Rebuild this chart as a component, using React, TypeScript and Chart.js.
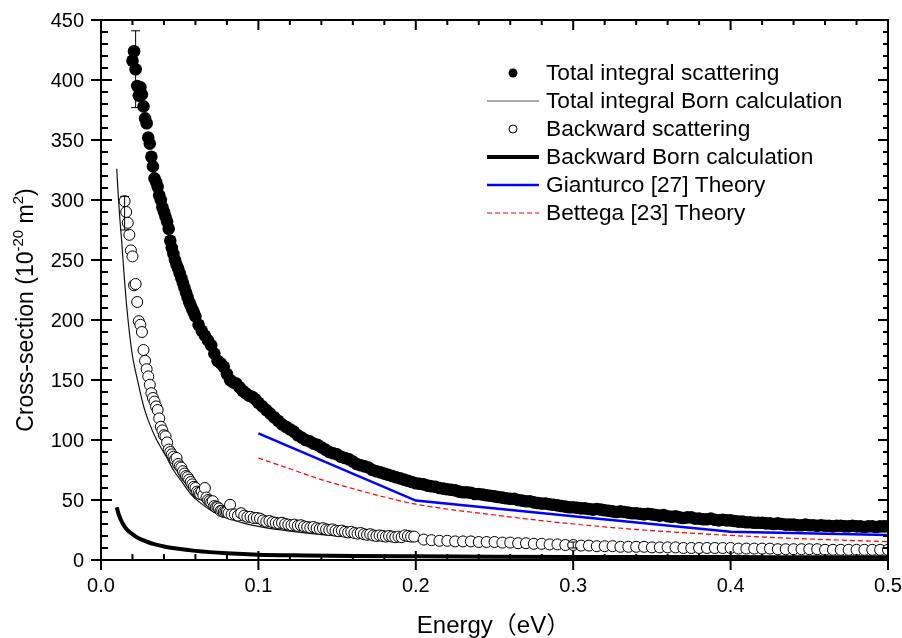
import React, { useEffect, useRef } from "react";
import { Chart, registerables } from "chart.js";

Chart.register(...registerables);

type Pt = [number, number];

const totalScattering: Pt[] = [
  [0.020, 416], [0.021, 424], [0.022, 409], [0.023, 395], [0.024, 387], [0.025, 394], [0.026, 388], [0.027, 378],
  [0.028, 368], [0.029, 364], [0.030, 352], [0.031, 347], [0.032, 336], [0.033, 328], [0.034, 318], [0.035, 315],
  [0.036, 311], [0.037, 304], [0.038, 300], [0.039, 294], [0.040, 290], [0.041, 286], [0.042, 282], [0.043, 276],
  [0.044, 266], [0.045, 260], [0.046, 255], [0.047, 250], [0.048, 246], [0.049, 243], [0.050, 239], [0.051, 235],
  [0.052, 231], [0.053, 227], [0.054, 223], [0.055, 219], [0.056, 215], [0.057, 212], [0.058, 209], [0.059, 206],
  [0.060, 203], [0.062, 196], [0.064, 191], [0.066, 187], [0.068, 183], [0.070, 179], [0.072, 172], [0.074, 166],
  [0.076, 164], [0.078, 161], [0.080, 155], [0.082, 150], [0.084, 148], [0.086, 147], [0.088, 144], [0.090, 141],
  [0.092, 139], [0.094, 137], [0.096, 136], [0.098, 134], [0.100, 131],
  [0.1025, 128], [0.105, 125], [0.1075, 122], [0.110, 119], [0.1125, 116], [0.115, 113], [0.1175, 111], [0.120, 109],
  [0.1225, 107], [0.125, 104], [0.1275, 102], [0.130, 100], [0.1325, 99], [0.135, 97], [0.1375, 96], [0.140, 94],
  [0.1425, 92], [0.145, 90], [0.1475, 89], [0.150, 88], [0.1525, 86], [0.155, 85], [0.1575, 84], [0.160, 82],
  [0.1625, 80], [0.165, 79], [0.1675, 78], [0.170, 77], [0.1725, 75], [0.175, 74], [0.1775, 73], [0.180, 72],
  [0.1825, 71], [0.185, 70], [0.1875, 69], [0.190, 68], [0.1925, 67], [0.195, 66], [0.1975, 65], [0.200, 64],
  [0.2025, 63.5], [0.205, 63], [0.2075, 62], [0.210, 61.5], [0.2125, 61], [0.215, 60], [0.2175, 59.5], [0.220, 59],
  [0.2225, 58.5], [0.225, 58], [0.2275, 57], [0.230, 56.5], [0.2325, 56.5], [0.235, 56], [0.2375, 55], [0.240, 55],
  [0.2425, 54.5], [0.245, 54], [0.2475, 53.5], [0.250, 53], [0.2525, 52.5], [0.255, 52], [0.2575, 51.5], [0.260, 51],
  [0.2625, 51], [0.265, 50], [0.2675, 49.5], [0.270, 49], [0.2725, 49], [0.275, 48], [0.2775, 47.5], [0.280, 47],
  [0.2825, 47], [0.285, 46.5], [0.2875, 46], [0.290, 45.5], [0.2925, 45], [0.295, 44.5], [0.2975, 44], [0.300, 44],
  [0.3025, 43.5], [0.305, 43], [0.3075, 43], [0.310, 42.5], [0.3125, 42], [0.315, 42.5], [0.3175, 42], [0.320, 41.5],
  [0.3225, 41], [0.325, 40.5], [0.3275, 40], [0.330, 40.5], [0.3325, 40], [0.335, 39.5], [0.3375, 39], [0.340, 39],
  [0.3425, 38.5], [0.345, 38], [0.3475, 38.5], [0.350, 38], [0.3525, 37.5], [0.355, 37], [0.3575, 37.5], [0.360, 36.5],
  [0.3625, 36], [0.365, 36.5], [0.3675, 35.5], [0.370, 35], [0.3725, 35.5], [0.375, 35.5], [0.3775, 34.5], [0.380, 34.5],
  [0.3825, 34], [0.385, 34], [0.3875, 34.5], [0.390, 33.5], [0.3925, 33], [0.395, 33.5], [0.3975, 33], [0.400, 33],
  [0.4025, 32.5], [0.405, 32], [0.4075, 32], [0.410, 31.5], [0.4125, 31.5], [0.415, 31], [0.4175, 31], [0.420, 31],
  [0.4225, 30.5], [0.425, 30.5], [0.4275, 30], [0.430, 30.5], [0.4325, 30], [0.435, 29.5], [0.4375, 29.5], [0.440, 29.5],
  [0.4425, 29], [0.445, 29], [0.4475, 29.5], [0.450, 29], [0.4525, 29], [0.455, 28.5], [0.4575, 29], [0.460, 28.5],
  [0.4625, 28.5], [0.465, 28], [0.4675, 28.5], [0.470, 28.5], [0.4725, 28], [0.475, 28], [0.4775, 28.5], [0.480, 28],
  [0.4825, 28], [0.485, 27.5], [0.4875, 28], [0.490, 28], [0.4925, 27.5], [0.495, 28], [0.4975, 28], [0.500, 28],
];

const backwardScattering: Pt[] = [
  [0.015, 299], [0.016, 290], [0.017, 281], [0.018, 271], [0.019, 258], [0.020, 253], [0.021, 229], [0.022, 230],
  [0.023, 215], [0.024, 199], [0.025, 196], [0.026, 190], [0.027, 175], [0.028, 166], [0.029, 159], [0.030, 153],
  [0.031, 146], [0.032, 139], [0.033, 135], [0.034, 132], [0.035, 128], [0.036, 125], [0.037, 118], [0.038, 111],
  [0.039, 108], [0.040, 104], [0.041, 103], [0.042, 98], [0.043, 92], [0.044, 90], [0.045, 88], [0.046, 86],
  [0.047, 84], [0.048, 85], [0.049, 80], [0.050, 78], [0.051, 77], [0.052, 74], [0.053, 72], [0.054, 70],
  [0.055, 69], [0.056, 67], [0.057, 65], [0.058, 63], [0.059, 61], [0.060, 60], [0.061, 57], [0.062, 56],
  [0.063, 55], [0.064, 57], [0.065, 54], [0.066, 60], [0.067, 52], [0.068, 50], [0.069, 49], [0.070, 48],
  [0.071, 49], [0.072, 45], [0.073, 44], [0.074, 44], [0.075, 43], [0.076, 41], [0.077, 41], [0.078, 40],
  [0.079, 40], [0.080, 40], [0.081, 39], [0.082, 46], [0.083, 38], [0.085, 38], [0.087, 37], [0.089, 39],
  [0.091, 37], [0.093, 36], [0.095, 36], [0.097, 35], [0.099, 35],
  [0.101, 34.5], [0.103, 33], [0.105, 32], [0.107, 32.5], [0.109, 31.5], [0.111, 31], [0.113, 30.5], [0.115, 31],
  [0.117, 30], [0.119, 29.5], [0.121, 29], [0.123, 29.5], [0.125, 28.5], [0.127, 29], [0.129, 28], [0.131, 27.5],
  [0.133, 27], [0.135, 27.5], [0.137, 26.5], [0.139, 26], [0.141, 26.5], [0.143, 25.5], [0.145, 25], [0.147, 25.5],
  [0.149, 24.5], [0.151, 24], [0.153, 24.5], [0.155, 23.5], [0.157, 23], [0.159, 23.5], [0.161, 22.5], [0.163, 22],
  [0.165, 22.5], [0.167, 21.5], [0.169, 21], [0.171, 21.5], [0.173, 20.5], [0.175, 20], [0.177, 20.5], [0.179, 20],
  [0.181, 19.5], [0.183, 20], [0.185, 19.5], [0.187, 19], [0.189, 19.5], [0.191, 19], [0.193, 20.5], [0.195, 20],
  [0.197, 19.5], [0.199, 19.5],
  [0.205, 17], [0.210, 16.5], [0.215, 16], [0.220, 16], [0.225, 15.5], [0.230, 15.5], [0.235, 15.5], [0.240, 15],
  [0.245, 15], [0.250, 15], [0.255, 14.5], [0.260, 14.5], [0.265, 14], [0.270, 14], [0.275, 13.5], [0.280, 13.5],
  [0.285, 13], [0.290, 13], [0.295, 12.5], [0.300, 12.5], [0.305, 12], [0.310, 12], [0.315, 11.5], [0.320, 11.5],
  [0.325, 11.5], [0.330, 11], [0.335, 11], [0.340, 11], [0.345, 11], [0.350, 10.5], [0.355, 10.5], [0.360, 10.5],
  [0.365, 10.5], [0.370, 10], [0.375, 10], [0.380, 10], [0.385, 10], [0.390, 10], [0.395, 10], [0.400, 10],
  [0.405, 9.5], [0.410, 9.5], [0.415, 9.5], [0.420, 9.5], [0.425, 9.5], [0.430, 9], [0.435, 9], [0.440, 9],
  [0.445, 9], [0.450, 9], [0.455, 9], [0.460, 8.5], [0.465, 8.5], [0.470, 8.5], [0.475, 8.5], [0.480, 8.5],
  [0.485, 8.5], [0.490, 8.5], [0.495, 8.5], [0.500, 8.5],
];

const totalBorn: Pt[] = [
  [0.010, 326], [0.011, 303], [0.012, 284], [0.013, 268], [0.014, 250], [0.015, 232], [0.016, 216], [0.018, 190],
  [0.020, 170], [0.0213, 161], [0.023, 151], [0.0256, 136], [0.028, 124], [0.031, 113], [0.035, 101], [0.0415, 86],
  [0.046, 75], [0.052, 64], [0.057, 55], [0.0627, 48], [0.068, 43], [0.073, 39], [0.080, 35], [0.090, 31],
  [0.100, 28], [0.120, 24], [0.150, 20], [0.200, 16], [0.250, 13], [0.300, 11.5], [0.350, 10], [0.400, 9],
  [0.450, 8], [0.500, 7.5],
];

const backwardBorn: Pt[] = [
  [0.010, 44], [0.011, 39], [0.012, 35.5], [0.013, 32.5], [0.014, 30], [0.016, 26], [0.018, 23.5], [0.020, 21.5],
  [0.023, 18.8], [0.0266, 16.5], [0.030, 14.8], [0.035, 12.8], [0.040, 11.2], [0.048, 9.5], [0.060, 7.6], [0.080, 5.6],
  [0.100, 4.4], [0.130, 3.8], [0.160, 3.4], [0.200, 3.1], [0.250, 2.8], [0.300, 2.6], [0.350, 2.5], [0.400, 2.4],
  [0.450, 2.3], [0.500, 2.2],
];

const gianturco: Pt[] = [[0.1, 105.6], [0.2, 49.5], [0.3, 36.5], [0.4, 23.5], [0.5, 20.8]];

const bettega: Pt[] = [
  [0.10, 85], [0.12, 76], [0.14, 67], [0.16, 59.5], [0.18, 52.5], [0.20, 46.5], [0.25, 37.5], [0.30, 30],
  [0.35, 24.5], [0.40, 20.5], [0.45, 17.5], [0.50, 15.3],
];

// error bars: [energy, low, high]
const errorBars: [number, number, number][] = [
  [0.022, 377, 441],
  [0.015, 275, 303],
  [0.300, 10, 15],
];

const xMajorTicks = [0, 0.1, 0.2, 0.3, 0.4, 0.5];
const xTickLabels = ["0.0", "0.1", "0.2", "0.3", "0.4", "0.5"];
const xMinorTicks = [0.02, 0.04, 0.06, 0.08, 0.12, 0.14, 0.16, 0.18, 0.22, 0.24, 0.26, 0.28, 0.32, 0.34, 0.36, 0.38, 0.42, 0.44, 0.46, 0.48];
const yMajorTicks = [0, 50, 100, 150, 200, 250, 300, 350, 400, 450];
const yMinorStep = 10;

const legendLabels = [
  "Total integral scattering",
  "Total integral Born calculation",
  "Backward scattering",
  "Backward Born calculation",
  "Gianturco [27] Theory",
  "Bettega [23] Theory",
];

const FONT = "'Liberation Sans', Arial, 'Noto Sans CJK SC', sans-serif";

const toXY = (a: Pt[]) => a.map(([x, y]) => ({ x, y }));

const decorPlugin = {
  id: "decor",
  afterDatasetsDraw(chart: any) {
    const ctx: CanvasRenderingContext2D = chart.ctx;
    const xs = chart.scales.x;
    const ys = chart.scales.y;
    const a = chart.chartArea;
    ctx.save();

    // error bars
    ctx.strokeStyle = "#000";
    ctx.lineWidth = 1;
    errorBars.forEach(([e, lo, hi]) => {
      const px = xs.getPixelForValue(e);
      const p1 = ys.getPixelForValue(lo);
      const p2 = ys.getPixelForValue(hi);
      const cap = 4.5;
      ctx.beginPath();
      ctx.moveTo(px, p1);
      ctx.lineTo(px, p2);
      ctx.moveTo(px - cap, p1);
      ctx.lineTo(px + cap, p1);
      ctx.moveTo(px - cap, p2);
      ctx.lineTo(px + cap, p2);
      ctx.stroke();
    });

    // frame
    ctx.lineWidth = 2;
    ctx.strokeStyle = "#000";
    ctx.strokeRect(a.left, a.top, a.right - a.left, a.bottom - a.top);

    // x ticks
    ctx.beginPath();
    xMajorTicks.forEach((v) => {
      const px = xs.getPixelForValue(v);
      ctx.moveTo(px, a.bottom - 9);
      ctx.lineTo(px, a.bottom + 10);
      ctx.moveTo(px, a.top);
      ctx.lineTo(px, a.top + 10);
    });
    xMinorTicks.forEach((v) => {
      const px = xs.getPixelForValue(v);
      ctx.moveTo(px, a.bottom - 6);
      ctx.lineTo(px, a.bottom);
      ctx.moveTo(px, a.top);
      ctx.lineTo(px, a.top + 5);
    });
    // y ticks
    yMajorTicks.forEach((v) => {
      const py = ys.getPixelForValue(v);
      ctx.moveTo(a.left - 10, py);
      ctx.lineTo(a.left + 11, py);
      ctx.moveTo(a.right - 10, py);
      ctx.lineTo(a.right, py);
    });
    for (let v = 0; v < 450; v += yMinorStep) {
      if (v % 50 === 0) continue;
      const py = ys.getPixelForValue(v);
      ctx.moveTo(a.left, py);
      ctx.lineTo(a.left + 7, py);
      ctx.moveTo(a.right - 5, py);
      ctx.lineTo(a.right, py);
    }
    ctx.stroke();

    // tick labels
    ctx.fillStyle = "#000";
    ctx.font = `20px ${FONT}`;
    ctx.textAlign = "center";
    ctx.textBaseline = "top";
    xMajorTicks.forEach((v, i) => {
      ctx.fillText(xTickLabels[i], xs.getPixelForValue(v), a.bottom + 16);
    });
    ctx.textAlign = "right";
    ctx.textBaseline = "middle";
    yMajorTicks.forEach((v) => {
      ctx.fillText(String(v), a.left - 17, ys.getPixelForValue(v) + 1);
    });

    // x title
    ctx.font = `24px ${FONT}`;
    ctx.textAlign = "center";
    ctx.textBaseline = "alphabetic";
    ctx.fillText("Energy（eV）", (a.left + a.right) / 2 - 1, 633);

    // y title (rotated, with superscripts)
    ctx.save();
    ctx.translate(33, 310);
    ctx.rotate(-Math.PI / 2);
    const parts: [string, boolean][] = [
      ["Cross-section (10", false],
      ["-20", true],
      [" m", false],
      ["2", true],
      [")", false],
    ];
    const big = `23px ${FONT}`;
    const small = `15px ${FONT}`;
    let total = 0;
    parts.forEach(([t, sup]) => {
      ctx.font = sup ? small : big;
      total += ctx.measureText(t).width;
    });
    let cx = -total / 2;
    ctx.textAlign = "left";
    parts.forEach(([t, sup]) => {
      ctx.font = sup ? small : big;
      ctx.fillText(t, cx, sup ? -10 : 0);
      cx += ctx.measureText(t).width;
    });
    ctx.restore();

    // legend
    const lx0 = 487;
    const lx1 = 539;
    const lmx = 513;
    const tx = 546;
    const rowY = [73, 101, 129, 157, 185, 213];
    ctx.fillStyle = "#000";
    ctx.beginPath();
    ctx.arc(lmx, rowY[0], 4.5, 0, Math.PI * 2);
    ctx.fill();
    ctx.strokeStyle = "#555";
    ctx.lineWidth = 1.2;
    ctx.beginPath();
    ctx.moveTo(lx0, rowY[1]);
    ctx.lineTo(lx1, rowY[1]);
    ctx.stroke();
    ctx.strokeStyle = "#000";
    ctx.lineWidth = 1;
    ctx.fillStyle = "#fff";
    ctx.beginPath();
    ctx.arc(lmx, rowY[2], 4, 0, Math.PI * 2);
    ctx.fill();
    ctx.stroke();
    ctx.lineWidth = 4;
    ctx.beginPath();
    ctx.moveTo(lx0, rowY[3]);
    ctx.lineTo(lx1, rowY[3]);
    ctx.stroke();
    ctx.strokeStyle = "#0000ff";
    ctx.lineWidth = 2.5;
    ctx.beginPath();
    ctx.moveTo(lx0, rowY[4]);
    ctx.lineTo(lx1, rowY[4]);
    ctx.stroke();
    ctx.strokeStyle = "#ff0000";
    ctx.lineWidth = 1.2;
    ctx.setLineDash([5, 3]);
    ctx.beginPath();
    ctx.moveTo(lx0, rowY[5]);
    ctx.lineTo(lx1, rowY[5]);
    ctx.stroke();
    ctx.setLineDash([]);

    ctx.fillStyle = "#000";
    ctx.font = `22.7px ${FONT}`;
    ctx.textAlign = "left";
    ctx.textBaseline = "middle";
    legendLabels.forEach((t, i) => ctx.fillText(t, tx, rowY[i] + 1));

    ctx.restore();
  },
};

export default function App() {
  const ref = useRef<HTMLCanvasElement>(null);
  useEffect(() => {
    if (!ref.current) return;
    const chart = new Chart(ref.current, {
      type: "scatter",
      data: {
        datasets: [
          {
            label: legendLabels[4],
            data: toXY(gianturco),
            showLine: true,
            borderColor: "#0000ff",
            borderWidth: 2.5,
            pointRadius: 0,
            fill: false,
          },
          {
            label: legendLabels[5],
            data: toXY(bettega),
            showLine: true,
            borderColor: "#ff0000",
            borderWidth: 1.2,
            borderDash: [5, 3],
            pointRadius: 0,
            cubicInterpolationMode: "monotone",
            fill: false,
          },
          {
            label: legendLabels[0],
            data: toXY(totalScattering),
            pointRadius: 6.3,
            pointBackgroundColor: "#000",
            pointBorderColor: "#000",
            pointBorderWidth: 0,
            showLine: false,
          },
          {
            label: legendLabels[2],
            data: toXY(backwardScattering),
            pointRadius: 5.5,
            pointBackgroundColor: "#fff",
            pointBorderColor: "#000",
            pointBorderWidth: 1,
            showLine: false,
          },
          {
            label: legendLabels[3],
            data: toXY(backwardBorn),
            showLine: true,
            borderColor: "#000",
            borderWidth: 4,
            pointRadius: 0,
            cubicInterpolationMode: "monotone",
            fill: false,
          },
          {
            label: legendLabels[1],
            data: toXY(totalBorn),
            showLine: true,
            borderColor: "#111",
            borderWidth: 1.2,
            pointRadius: 0,
            cubicInterpolationMode: "monotone",
            fill: false,
          },
        ],
      },
      options: {
        animation: false,
        responsive: false,
        devicePixelRatio: 1,
        layout: { padding: { left: 101, right: 14, top: 20, bottom: 78 } },
        plugins: { legend: { display: false }, tooltip: { enabled: false } },
        scales: {
          x: { type: "linear", min: 0, max: 0.5, display: false },
          y: { type: "linear", min: 0, max: 450, display: false },
        },
      },
      plugins: [decorPlugin],
    });
    return () => chart.destroy();
  }, []);
  return (
    <div style={{ position: "fixed", left: 0, top: 0, width: 902, height: 638, background: "#fff" }}>
      <canvas ref={ref} width={902} height={638} style={{ width: 902, height: 638, display: "block" }} />
    </div>
  );
}
